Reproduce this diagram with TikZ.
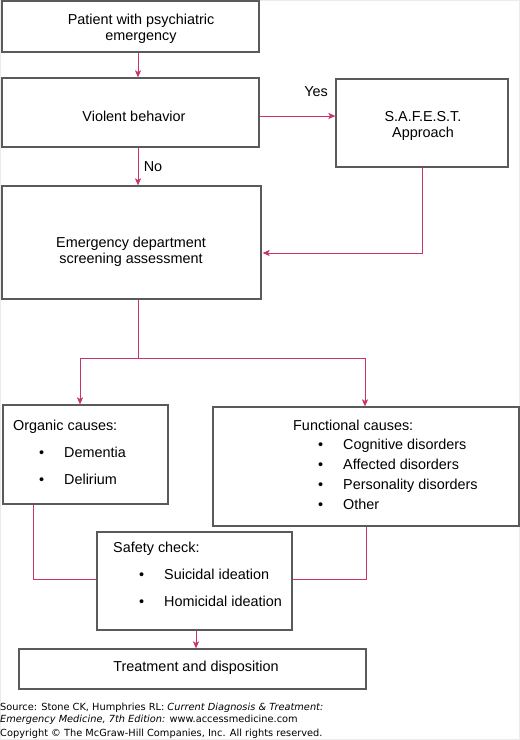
\documentclass[tikz,border=0pt]{standalone}
\usepackage{fontspec}
\setmainfont{Liberation Sans}
\newfontfamily\srcfont{DejaVu Sans}
\usetikzlibrary{arrows.meta,calc}
\definecolor{linkc}{RGB}{200,50,110}
\definecolor{boxc}{RGB}{90,90,90}
\newcommand{\bul}[1]{\makebox[25pt][l]{\textbullet}#1}
\begin{document}
\begin{tikzpicture}[x=1pt,y=-1pt,
  box/.style={draw=boxc,line width=1.2pt,rectangle,inner sep=0pt,fill=white},
  txt/.style={font=\fontsize{14.4}{16}\selectfont,inner sep=0pt,align=center},
  ltxt/.style={font=\fontsize{14.4}{16}\selectfont,inner sep=0pt,anchor=west,text height=10.5pt,text depth=3.5pt},
  link/.style={draw=linkc,line width=1pt},
  arr/.style={link,-{Stealth[length=7pt,width=6pt,inset=1.5pt]}},
  src/.style={font=\srcfont\fontsize{9.8}{11}\selectfont,inner sep=0pt,anchor=west}]
\useasboundingbox (0,0) rectangle (520,740);
\draw[black!8,line width=1pt] (0.5,0.5) rectangle (519.5,739.5);
% boxes
\node[box,minimum width=257pt,minimum height=51pt] (b1) at (130.5,26.5) {};
\node[box,minimum width=257pt,minimum height=69pt] (b2) at (130.5,112.5) {};
\node[box,minimum width=172pt,minimum height=88pt] (sa) at (422,123) {};
\node[box,minimum width=259pt,minimum height=113pt] (b3) at (131.5,242.5) {};
\node[box,minimum width=165pt,minimum height=99pt] (org) at (85.5,454.5) {};
\node[box,minimum width=306pt,minimum height=119pt] (fun) at (366,466.5) {};
\node[box,minimum width=347pt,minimum height=40pt] (tr) at (192.5,669) {};
% texts
\node[txt] (t1) at (141,28.5) {Patient with psychiatric\\emergency};
\node[txt] (t2) at (134,116) {Violent behavior};
\node[txt] (t3) at (423,126) {S.A.F.E.S.T.\\Approach};
\node[txt] (t4) at (131,252) {Emergency department\\screening assessment};
\node[txt] (yes) at (316,92) {Yes};
\node[txt] (no) at (153,167) {No};
\node[ltxt] (o0) at (13,427) {Organic causes:};
\node[ltxt] (o1) at (39,454) {\bul{Dementia}};
\node[ltxt] (o2) at (39,481) {\bul{Delirium}};
\node[ltxt] (f0) at (293,427) {Functional causes:};
\node[ltxt] (f1) at (318,446) {\bul{Cognitive disorders}};
\node[ltxt] (f2) at (318,466) {\bul{Affected disorders}};
\node[ltxt] (f3) at (318,486) {\bul{Personality disorders}};
\node[ltxt] (f4) at (318,506) {\bul{Other}};
\node[txt] (t5) at (196,668) {Treatment and disposition};
% coordinates
\coordinate (cx) at (138,0);
\coordinate (sx) at (422,253);
\coordinate (ay) at (0,116);
\coordinate (jc) at (138,358);
\coordinate (jl) at (80,358);
\coordinate (jr) at (365,358);
\coordinate (ol) at (33,579);
\coordinate (fr) at (366,579);
\coordinate (tx) at (196,0);
% connectors
\draw[arr] (b1.south -| cx) -- (b2.north -| cx);
\draw[arr] (b2.south -| cx) -- (b3.north -| cx);
\draw[arr] (b2.east |- ay) -- (sa.west |- ay);
\draw[arr] (sa.south -| sx) -- (sx) -- ($(b3.east |- sx)+(1,0)$);
\draw[link] (b3.south -| cx) -- (jc);
\draw[link] (jl) -- (jr);
\draw[arr] (jl) -- (jl |- org.north);
\draw[arr] (jr) -- (jr |- fun.north);
% safety box drawn after links into it
\node[box,minimum width=195pt,minimum height=98pt] (sf) at (194.5,581) {};
\node[ltxt] (s0) at (113,549) {Safety check:};
\node[ltxt] (s1) at (139,576) {\bul{Suicidal ideation}};
\node[ltxt] (s2) at (139,603) {\bul{Homicidal ideation}};
\draw[link] (org.south -| ol) -- (ol) -- (ol -| sf.west);
\draw[link] (fun.south -| fr) -- (fr) -- (fr -| sf.east);
\draw[arr] (sf.south -| tx) -- (tr.north -| tx);
% source
\node[src] (c1) at (0,708) {Source: Stone CK, Humphries RL: \textit{Current Diagnosis \& Treatment:}};
\node[src] (c2) at (0,720) {\textit{Emergency Medicine, 7th Edition:} www.accessmedicine.com};
\node[src] (c3) at (0,734) {Copyright © The McGraw-Hill Companies, Inc. All rights reserved.};
\end{tikzpicture}
\end{document}
